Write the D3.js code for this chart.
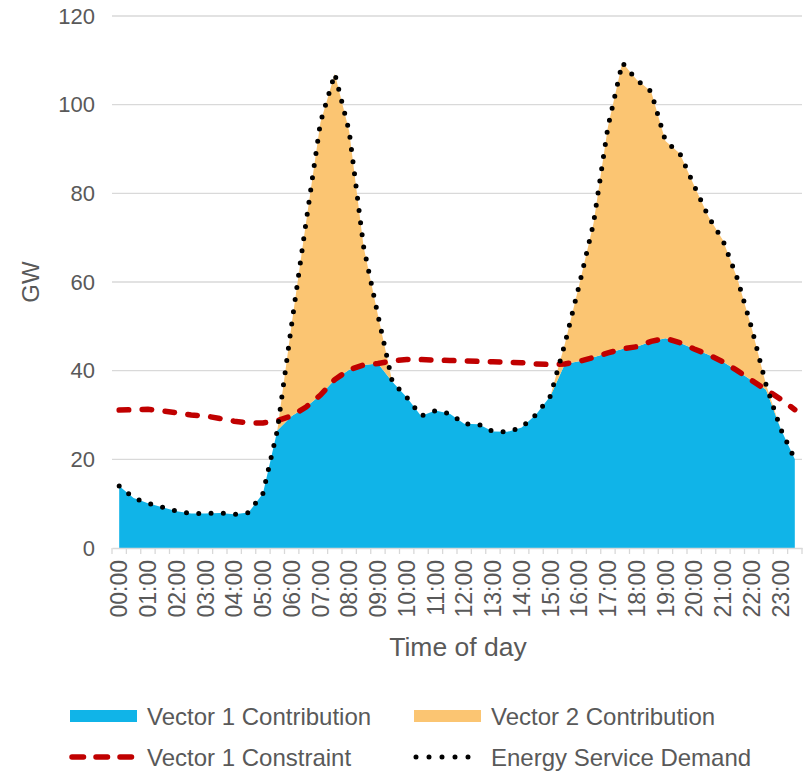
<!DOCTYPE html>
<html>
<head>
<meta charset="utf-8">
<script src="https://cdn.jsdelivr.net/npm/d3@7"></script>
<style>
  body { margin: 0; background: #fff; }
  text { font-family: "Liberation Sans", Arial, sans-serif; fill: #595959; }
</style>
</head>
<body>
<script>

const categories = [
    "00:00", "00:30", "01:00", "01:30", "02:00", "02:30", "03:00", "03:30",
    "04:00", "04:30", "05:00", "05:30", "06:00", "06:30", "07:00", "07:30",
    "08:00", "08:30", "09:00", "09:30", "10:00", "10:30", "11:00", "11:30",
    "12:00", "12:30", "13:00", "13:30", "14:00", "14:30", "15:00", "15:30",
    "16:00", "16:30", "17:00", "17:30", "18:00", "18:30", "19:00", "19:30",
    "20:00", "20:30", "21:00", "21:30", "22:00", "22:30", "23:00", "23:30"
];

const tickLabels = [
    "00:00", "01:00", "02:00", "03:00", "04:00", "05:00", "06:00", "07:00",
    "08:00", "09:00", "10:00", "11:00", "12:00", "13:00", "14:00", "15:00",
    "16:00", "17:00", "18:00", "19:00", "20:00", "21:00", "22:00", "23:00"
];

const yTicks = [0, 20, 40, 60, 80, 100, 120];

const vector1 = [
    14.0, 11.3, 10.1, 9.2, 8.3, 7.8, 7.8, 7.9, 7.6, 8.0, 12.3, 26.5,
    29.8, 31.8, 34.5, 38.0, 40.2, 41.3, 41.6, 37.5, 34.0, 29.8, 31.0, 30.3,
    28.0, 27.9, 26.3, 26.2, 27.2, 30.1, 34.3, 41.5, 42.1, 43.0, 44.0, 44.9,
    45.4, 46.6, 47.3, 46.3, 44.9, 43.6, 42.0, 40.0, 37.8, 35.7, 27.0, 20.0
];

const vector2 = [
    0, 0, 0, 0, 0, 0, 0, 0, 0, 0, 0, 0,
    20.7, 41.7, 61.5, 69.0, 53.8, 26.7, 10.9, 0, 0, 0, 0, 0,
    0, 0, 0, 0, 0, 0, 0, 4.5, 17.2, 30.3, 51.0, 64.6,
    60.2, 56.4, 44.5, 42.7, 36.8, 31.1, 27.4, 20.8, 11.8, 1.1, 0, 0
];

const constraint = [
    31.1, 31.2, 31.3, 30.9, 30.5, 30.0, 29.8, 29.2, 28.6, 28.2, 28.2, 28.7,
    29.8, 31.8, 34.5, 38.0, 40.2, 41.3, 41.6, 42.2, 42.5, 42.5, 42.4, 42.3,
    42.2, 42.1, 42.0, 41.9, 41.8, 41.5, 41.4, 41.5, 42.1, 43.0, 44.0, 44.9,
    45.4, 46.6, 47.3, 46.3, 44.9, 43.6, 42.0, 40.0, 37.8, 35.7, 33.6, 31.2
];

const demand = [
    14.0, 11.3, 10.1, 9.2, 8.3, 7.8, 7.8, 7.9, 7.6, 8.0, 12.3, 26.5,
    50.5, 73.5, 96.0, 107.0, 94.0, 68.0, 52.5, 37.5, 34.0, 29.8, 31.0, 30.3,
    28.0, 27.9, 26.3, 26.2, 27.2, 30.1, 34.3, 46.0, 59.3, 73.3, 95.0, 109.5,
    105.6, 103.0, 91.8, 89.0, 81.7, 74.7, 69.4, 60.8, 49.6, 36.8, 27.0, 20.0
];

const blue = "#10b4e8";
const orange = "#fbc572";
const red = "#c00000";
const grid = "#d9d9d9";

const rows = categories.map((c, i) => ({cat: c, v1: vector1[i], v2: vector2[i]}));
const stacked = d3.stack().keys(["v1", "v2"])(rows);

const svg = d3.select('body')
    .append("svg")
    .attr("width", 804)
    .attr("height", 771);

const x = d3.scaleBand()
    .domain(categories)
    .range([112, 802]);

const cx = (c) => x(c) + x.bandwidth() / 2;

const y = d3.scaleLinear()
    .domain([0, 120])
    .range([548, 16]);

// gridlines
svg.append("g")
    .selectAll("line")
    .data(yTicks.slice(1))
    .enter()
    .append("line")
    .attr("x1", 112)
    .attr("x2", 802)
    .attr("y1", (d) => y(d))
    .attr("y2", (d) => y(d))
    .attr("stroke", grid)
    .attr("stroke-width", 1.3);

// stacked areas
const area = d3.area()
    .x((d) => cx(d.data.cat))
    .y0((d) => y(d[0]))
    .y1((d) => y(d[1]));

svg.append("g")
    .selectAll("path")
    .data(stacked)
    .enter()
    .append("path")
    .attr("d", area)
    .attr("fill", (d, i) => i === 0 ? blue : orange);

// x axis
const xAxis = svg.append("g")
    .attr("transform", "translate(0,548)")
    .call(d3.axisBottom(x).tickValues(tickLabels).tickSize(0).tickSizeOuter(0));

xAxis.select(".domain")
    .attr("stroke", grid)
    .attr("stroke-width", 1.3);

xAxis.selectAll("text")
    .attr("transform", "rotate(-90)")
    .attr("text-anchor", "end")
    .attr("x", -12)
    .attr("y", 0)
    .attr("dy", "0.36em")
    .style("font-size", "23px")
    .style("fill", "#595959");

svg.append("g")
    .selectAll("line")
    .data(categories.concat([null]))
    .enter()
    .append("line")
    .attr("x1", (d) => d === null ? 802 : x(d))
    .attr("x2", (d) => d === null ? 802 : x(d))
    .attr("y1", 548)
    .attr("y2", 554)
    .attr("stroke", grid)
    .attr("stroke-width", 1.3);

// y axis
const yAxis = svg.append("g")
    .attr("transform", "translate(112,0)")
    .call(d3.axisLeft(y).tickValues(yTicks).tickSize(0).tickPadding(17));

yAxis.select(".domain").remove();

yAxis.selectAll("text")
    .style("font-size", "22px")
    .style("fill", "#595959");

// lines
const valueLine = d3.line()
    .x((d, i) => cx(categories[i]))
    .y((d) => y(d));

svg.append("path")
    .attr("d", valueLine(constraint))
    .attr("fill", "none")
    .attr("stroke", red)
    .attr("stroke-width", 5.5)
    .attr("stroke-linecap", "round")
    .attr("stroke-dasharray", "9.5,13.5");

svg.append("path")
    .attr("d", valueLine(demand))
    .attr("fill", "none")
    .attr("stroke", "#000")
    .attr("stroke-width", 5)
    .attr("stroke-linecap", "round")
    .attr("stroke-dasharray", "0,12.3");

// axis titles
svg.append("text")
    .text("GW")
    .attr("transform", "translate(39,282) rotate(-90)")
    .attr("text-anchor", "middle")
    .style("font-size", "24px");

svg.append("text")
    .text("Time of day")
    .attr("x", 458)
    .attr("y", 656)
    .attr("text-anchor", "middle")
    .style("font-size", "26.5px");

// legend
const legend = svg.append("g");

legend.append("rect")
    .attr("x", 70).attr("y", 710)
    .attr("width", 67).attr("height", 12)
    .attr("fill", blue);

legend.append("rect")
    .attr("x", 414).attr("y", 710)
    .attr("width", 67).attr("height", 12)
    .attr("fill", orange);

legend.append("line")
    .attr("x1", 72).attr("x2", 132)
    .attr("y1", 757).attr("y2", 757)
    .attr("stroke", red)
    .attr("stroke-width", 5.5)
    .attr("stroke-linecap", "round")
    .attr("stroke-dasharray", "11.5,12.5");

legend.append("line")
    .attr("x1", 416).attr("x2", 481)
    .attr("y1", 757).attr("y2", 757)
    .attr("stroke", "#000")
    .attr("stroke-width", 5)
    .attr("stroke-linecap", "round")
    .attr("stroke-dasharray", "0,13");

const legendLabels = [
    {text: "Vector 1 Contribution", x: 147, y: 716},
    {text: "Vector 2 Contribution", x: 491, y: 716},
    {text: "Vector 1 Constraint", x: 147, y: 757},
    {text: "Energy Service Demand", x: 491, y: 757}
];

legend.selectAll("text")
    .data(legendLabels)
    .enter()
    .append("text")
    .text((d) => d.text)
    .attr("x", (d) => d.x)
    .attr("y", (d) => d.y)
    .attr("dy", "0.36em")
    .style("font-size", "24px");

</script>
</body>
</html>
